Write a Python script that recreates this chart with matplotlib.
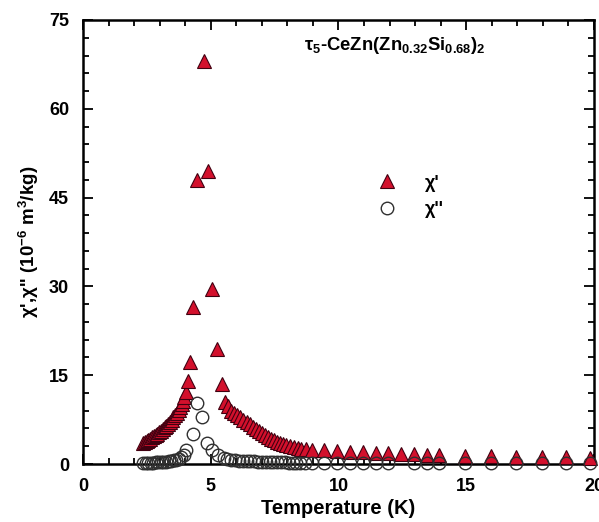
import matplotlib
matplotlib.use("Agg")
import matplotlib.pyplot as plt
from matplotlib.ticker import MultipleLocator

# Fonts: Arial-like bold everywhere, also inside math text
plt.rcParams['font.family'] = ['Liberation Sans', 'DejaVu Sans']
plt.rcParams['font.weight'] = 'bold'
plt.rcParams['mathtext.fontset'] = 'custom'
plt.rcParams['mathtext.rm'] = 'Liberation Sans:bold'
plt.rcParams['mathtext.it'] = 'Liberation Sans:bold'
plt.rcParams['mathtext.bf'] = 'Liberation Sans:bold'

# Data: chi' (real part)
T_real = [2.35, 2.42, 2.49, 2.56, 2.63, 2.70, 2.77, 2.84, 2.91, 2.98,
          3.05, 3.12, 3.19, 3.26, 3.33, 3.40, 3.47, 3.54, 3.61, 3.68,
          3.74, 3.80, 3.86, 3.91, 3.96, 4.02, 4.10, 4.18, 4.30, 4.45,
          4.73, 4.88, 5.06, 5.25, 5.43, 5.56, 5.68, 5.80, 5.92, 6.04,
          6.16, 6.28, 6.40, 6.52, 6.64, 6.76, 6.88, 7.00, 7.12, 7.24,
          7.36, 7.48, 7.60, 7.72, 7.84, 7.96, 8.10, 8.25, 8.40, 8.55,
          8.72, 8.95, 9.45, 9.95, 10.45, 10.95, 11.45, 11.95, 12.45, 12.95,
          13.45, 13.95, 14.95, 15.95, 16.95, 17.95, 18.90, 19.85]
chi_real = [3.5, 3.7, 3.9, 4.1, 4.3, 4.5, 4.7, 4.9, 5.1, 5.4,
            5.6, 5.9, 6.2, 6.5, 6.8, 7.1, 7.5, 7.9, 8.3, 8.7,
            9.1, 9.6, 10.1, 10.6, 11.3, 12.2, 14.0, 17.2, 26.5, 48.0,
            68.0, 49.5, 29.5, 19.4, 13.5, 10.5, 9.8, 9.0, 8.6, 8.2,
            7.9, 7.5, 7.1, 6.7, 6.3, 5.9, 5.6, 5.2, 4.9, 4.6,
            4.3, 4.0, 3.8, 3.6, 3.4, 3.2, 3.0, 2.8, 2.7, 2.6,
            2.5, 2.4, 2.3, 2.2, 2.1, 2.0, 1.9, 1.8, 1.75, 1.7,
            1.6, 1.55, 1.4, 1.3, 1.2, 1.15, 1.1, 1.05]

# Data: chi'' (imaginary part)
T_imag = [2.35, 2.45, 2.55, 2.65, 2.75, 2.85, 2.95, 3.05, 3.15, 3.25,
          3.35, 3.45, 3.55, 3.65, 3.75, 3.85, 3.95, 4.05, 4.30, 4.45,
          4.65, 4.84, 5.06, 5.30, 5.50, 5.65, 5.80, 5.95, 6.10, 6.25,
          6.40, 6.55, 6.70, 6.85, 7.00, 7.15, 7.30, 7.45, 7.60, 7.75,
          7.90, 8.05, 8.20, 8.35, 8.50, 8.70, 8.95, 9.45, 9.95, 10.45,
          10.95, 11.45, 11.95, 12.95, 13.45, 13.95, 14.95, 15.95, 16.95, 17.95,
          18.90, 19.85]
chi_imag = [0.2, 0.2, 0.2, 0.25, 0.25, 0.3, 0.3, 0.35, 0.35, 0.4,
            0.45, 0.5, 0.6, 0.7, 0.85, 1.1, 1.5, 2.3, 5.0, 10.3,
            8.0, 3.6, 2.4, 1.5, 1.0, 0.8, 0.7, 0.6, 0.55, 0.5,
            0.5, 0.45, 0.45, 0.4, 0.4, 0.35, 0.35, 0.3, 0.3, 0.3,
            0.3, 0.25, 0.25, 0.25, 0.25, 0.2, 0.2, 0.15, 0.15, 0.15,
            0.15, 0.1, 0.1, 0.1, 0.1, 0.1, 0.1, 0.1, 0.1, 0.1,
            0.1, 0.1]

fig = plt.figure(figsize=(5.99, 5.22), dpi=100)
ax = fig.add_axes([0.1386, 0.1111, 0.853, 0.8506])

ax.plot(T_real, chi_real, linestyle='none', marker='^', markersize=10.5,
        markerfacecolor='#d3102c', markeredgecolor='#400010', markeredgewidth=0.8,
        label="\u03c7'", clip_on=False, zorder=3)
ax.plot(T_imag, chi_imag, linestyle='none', marker='o', markersize=9,
        markerfacecolor='none', markeredgecolor='#303030', markeredgewidth=1.0,
        label="\u03c7''", clip_on=False, zorder=4)

# Axes
ax.set_xlim(0, 20)
ax.set_ylim(0, 75)
ax.xaxis.set_major_locator(MultipleLocator(5))
ax.xaxis.set_minor_locator(MultipleLocator(1))
ax.yaxis.set_major_locator(MultipleLocator(15))
ax.yaxis.set_minor_locator(MultipleLocator(3))
ax.tick_params(which='both', direction='in', top=True, right=True, width=1.3)
ax.tick_params(which='major', length=7, labelsize=13)
ax.tick_params(which='minor', length=4)
ax.tick_params(axis='x', which='major', pad=10)
ax.tick_params(axis='y', which='major', pad=10)
for s in ax.spines.values():
  s.set_linewidth(1.8)

ax.set_xlabel("Temperature (K)", fontsize=14.5, fontweight='bold', labelpad=3)
ax.set_ylabel("\u03c7',\u03c7'' (10$^{-6}$ m$^3$/kg)", fontsize=13.5, fontweight='bold', labelpad=6)

ax.text(12.2, 70.7, "\u03c4$_5$-CeZn(Zn$_{0.32}$Si$_{0.68}$)$_2$", fontsize=13.3,
        fontweight='bold', ha='center', va='center')

ax.legend(loc='upper left', bbox_to_anchor=(0.567, 0.652), frameon=False,
          fontsize=13, handlelength=1.6, handletextpad=1.3, labelspacing=0.55,
          borderpad=0, borderaxespad=0, numpoints=1)

fig.savefig("out.png", dpi=100)
